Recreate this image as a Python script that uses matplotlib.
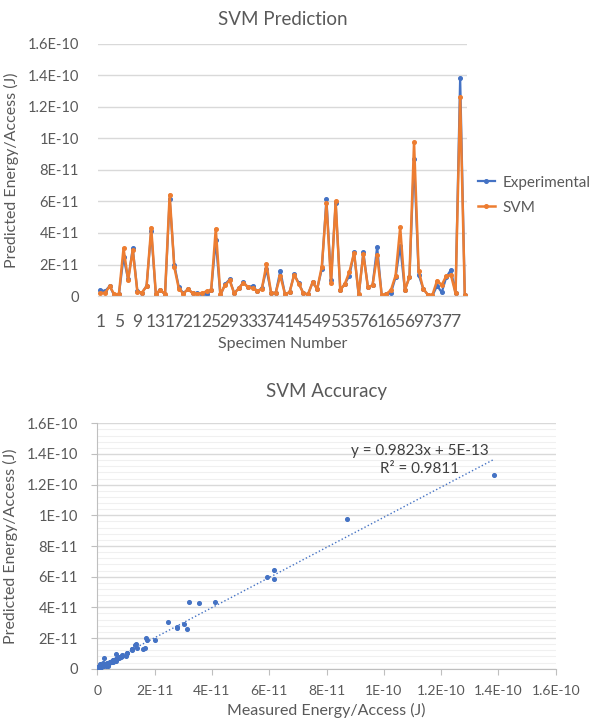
import numpy as np
import matplotlib
matplotlib.use('Agg')
import matplotlib.pyplot as plt
from matplotlib.ticker import FuncFormatter

# energy per access, in units of 1E-11 J
experimental = [0.38, 0.30, 0.64, 0.02, 0.10, 2.46, 1.05, 3.03, 0.30, 0.20,
                0.65, 4.10, 0.13, 0.40, 0.08, 6.17, 2.00, 0.55, 0.17, 0.45,
                0.17, 0.17, 0.15, 0.10, 0.35, 3.54, 0.02, 0.75, 1.05, 0.17,
                0.50, 0.87, 0.55, 0.65, 0.30, 0.50, 1.70, 0.20, 0.20, 1.60,
                0.13, 0.23, 1.37, 0.82, 0.17, 0.10, 0.87, 0.45, 1.72, 6.17,
                1.00, 5.91, 0.38, 0.77, 1.30, 2.78, 0.00, 2.79, 0.55, 0.68,
                3.12, 0.00, 0.13, 0.20, 1.20, 3.19, 0.38, 1.20, 8.70, 1.35,
                0.45, 0.08, 0.02, 0.66, 0.23, 1.20, 1.66, 0.17, 13.86, 0.08]
svm = [0.19, 0.20, 0.62, 0.10, 0.12, 3.02, 1.00, 2.91, 0.28, 0.22,
       0.62, 4.34, 0.15, 0.38, 0.12, 6.43, 1.85, 0.45, 0.15, 0.45,
       0.17, 0.15, 0.17, 0.30, 0.35, 4.26, 0.10, 0.68, 1.00, 0.17,
       0.48, 0.85, 0.55, 0.50, 0.30, 0.45, 2.02, 0.20, 0.20, 1.30,
       0.13, 0.23, 1.35, 0.78, 0.17, 0.10, 0.87, 0.45, 1.87, 5.88,
       0.80, 6.00, 0.38, 0.77, 1.55, 2.74, 0.12, 2.65, 0.55, 0.68,
       2.59, 0.04, 0.13, 0.38, 1.30, 4.36, 0.38, 1.20, 9.75, 1.61,
       0.45, 0.08, 0.08, 0.98, 0.70, 1.28, 1.33, 0.17, 12.62, 0.08]
unit = 1e-11
specimen = np.arange(1, len(experimental) + 1)
exp_j = np.array(experimental) * unit
svm_j = np.array(svm) * unit

slope = 0.9823
intercept = 5e-13
eq_text = 'y = 0.9823x + 5E-13\nR² = 0.9811'

blue = '#4472C4'
orange = '#ED7D31'
txt = '#595959'
grid = '#D9D9D9'
plt.rcParams['font.family'] = ['Lato', 'DejaVu Sans']

energy_ticks = np.linspace(0, 1.6e-10, 9)
minor_ticks = np.linspace(0, 1.6e-10, 41)


def excel_fmt(v, pos):
    if abs(v) < 1e-20:
        return '0'
    m, e = ('%.1E' % v).split('E')
    m = m.rstrip('0').rstrip('.')
    return '%sE%d' % (m, int(e))


fig = plt.figure(figsize=(5.95, 7.28), dpi=100)

# ---- top: line chart
ax = fig.add_axes([0.165, 0.5934, 0.620, 0.3462])
ax.plot(specimen, exp_j, color=blue, lw=1.6, marker='o', ms=2.6, label='Experimental')
ax.plot(specimen, svm_j, color=orange, lw=1.8, marker='o', ms=2.6, label='SVM')
ax.set_xlim(0.5, len(specimen) + 0.5)
ax.set_ylim(0, 1.6e-10)
ax.set_yticks(energy_ticks)
ax.yaxis.set_major_formatter(FuncFormatter(excel_fmt))
ax.set_xticks(specimen[::4])
ax.set_xticklabels([str(s) for s in specimen[::4]])
ax.grid(axis='y', color=grid, lw=1)
ax.set_axisbelow(True)
for s in ['top', 'right', 'left']:
    ax.spines[s].set_visible(False)
ax.spines['bottom'].set_color(grid)
ax.tick_params(axis='both', length=0, labelsize=10.5, colors=txt)
ax.tick_params(axis='x', labelsize=12.5, pad=13)
ax.tick_params(axis='y', pad=14)
ax.set_title('SVM Prediction', fontsize=13.5, color=txt, pad=14)
ax.set_xlabel('Specimen Number', fontsize=11.5, color=txt, labelpad=5)
ax.set_ylabel('Predicted Energy/Access (J)', fontsize=11.5, color=txt, labelpad=6)
ax.legend(loc='center left', bbox_to_anchor=(1.0, 0.40), frameon=False,
          fontsize=11, labelcolor=txt, handlelength=1.1, handletextpad=0.5,
          labelspacing=0.7, borderaxespad=0.3)

# ---- bottom: scatter with trendline
ax2 = fig.add_axes([0.1635, 0.0815, 0.7705, 0.337])
ax2.scatter(exp_j, svm_j, s=7, color=blue, zorder=3)
xt = np.array([exp_j.min(), exp_j.max()])
ax2.plot(xt, slope * xt + intercept, color=blue, lw=1, ls=':', zorder=2)
ax2.set_xlim(0, 1.6e-10)
ax2.set_ylim(0, 1.6e-10)
ax2.set_xticks(energy_ticks)
ax2.set_yticks(energy_ticks)
ax2.set_yticks(minor_ticks, minor=True)
ax2.xaxis.set_major_formatter(FuncFormatter(excel_fmt))
ax2.yaxis.set_major_formatter(FuncFormatter(excel_fmt))
ax2.grid(axis='y', which='major', color=grid, lw=1)
ax2.grid(axis='y', which='minor', color='#F0F0F0', lw=0.8)
ax2.set_axisbelow(True)
for s in ['top', 'right']:
    ax2.spines[s].set_visible(False)
for s in ['left', 'bottom']:
    ax2.spines[s].set_color('#BFBFBF')
ax2.tick_params(axis='both', which='major', length=4, color='#BFBFBF',
                labelsize=10.5, labelcolor=txt)
ax2.tick_params(axis='x', labelsize=10, pad=8)
ax2.tick_params(axis='y', which='minor', length=0)
ax2.tick_params(axis='y', pad=10)
ax2.set_title('SVM Accuracy', fontsize=13.5, color=txt, pad=19)
ax2.set_xlabel('Measured Energy/Access (J)', fontsize=11.5, color=txt, labelpad=4)
ax2.set_ylabel('Predicted Energy/Access (J)', fontsize=11.5, color=txt, labelpad=6)
ax2.text(1.126e-10, 1.363e-10, eq_text, ha='center', va='center', fontsize=11,
         color='#404040', linespacing=1.35)

fig.savefig('out.png', dpi=100)
